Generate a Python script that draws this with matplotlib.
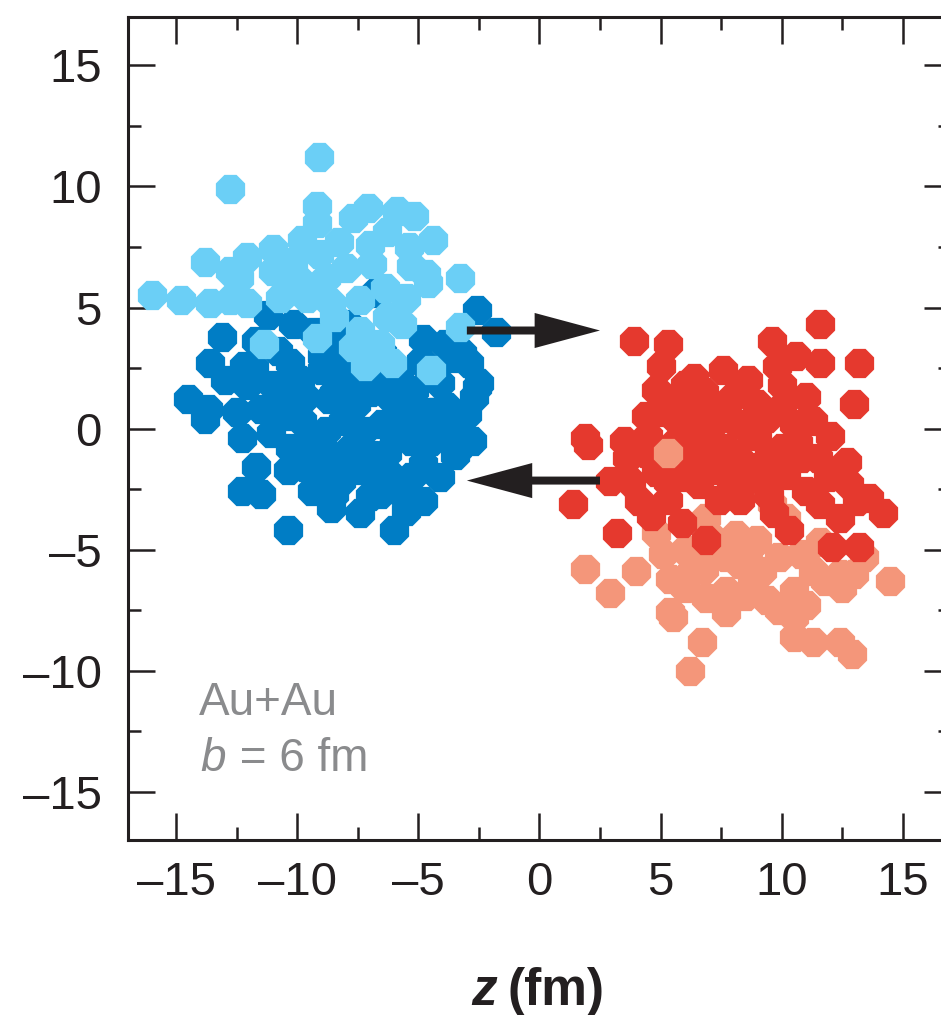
import matplotlib
matplotlib.use("Agg")
import matplotlib.pyplot as plt
from matplotlib.ticker import MultipleLocator

# nucleon positions (z, y) in fm
blue_dark = [
    (-11.2, 4.7), (-10.2, 4.3), (-13.1, 3.8), (-6.8, 5.6), (-2.6, 4.9), (-1.8, 4.0),
    (-4.8, 3.7), (-9.3, 4.0), (-7.9, 4.3), (-8.4, 3.6), (-13.6, 2.7), (-12.2, 2.6),
    (-13.0, 2.0), (-12.1, 1.8), (-14.5, 1.2), (-13.7, 0.8), (-12.5, 0.7), (-13.8, 0.4),
    (-12.3, -0.4), (-11.1, -0.2), (-10.7, 1.2), (-9.7, 1.3), (-9.8, 0.3), (-11.7, -1.6),
    (-12.3, -2.6), (-11.5, -2.7), (-9.7, -1.6), (-9.4, -2.6), (-10.4, -4.2), (-10.3, 2.7),
    (-10.8, 3.2), (-9.0, 2.4), (-9.0, -0.5), (-8.8, -1.3), (-3.2, 3.1), (-2.9, 2.7),
    (-2.5, 1.9), (-2.6, 1.7), (-2.7, 1.3), (-3.6, 2.9), (-7.1, 2.6), (-4.1, 1.9),
    (-5.2, 1.6), (-6.1, 1.2), (-4.6, 0.7), (-8.5, 1.45), (-7.6, 1.0), (-6.5, 0.2),
    (-3.5, 0.0), (-2.8, -0.5), (-3.4, -0.9), (-3.5, -1.1), (-4.8, -1.45), (-6.3, -1.0),
    (-7.8, -0.8), (-8.8, -0.1), (-9.0, -1.7), (-8.2, -2.15), (-6.8, -2.0), (-5.3, -2.0),
    (-4.8, -3.0), (-7.4, -3.5), (-6.0, -4.2), (-8.5, -2.7), (-6.6, -2.7), (-9.9, 2.0),
    (-8.7, 1.2), (-9.5, -0.5), (-8.1, 0.3), (-7.3, -0.1), (-9.9, -0.9), (-8.2, -1.3),
    (-7.5, -1.7), (-10.4, -1.7), (-5.7, 0.7), (-5.3, -0.5), (-4.5, -0.5), (-6.6, 2.0),
    (-7.9, 2.0), (-9.0, 3.0), (-7.9, 3.2), (-5.8, 2.2), (-4.3, 0.7), (-3.8, 0.9),
    (-6.3, -1.8), (-5.8, -2.6), (-7.0, -2.8), (-10.5, 0.5), (-11.5, 0.8), (-11.8, 2.5),
    (-11.0, 1.8), (-6.0, -0.3), (-4.0, -0.2), (-4.1, -2.0), (-6.9, -1.1), (-5.2, 0.3),
    (-4.9, 2.8), (-3.9, 3.5), (-6.5, 3.1), (-8.3, 2.6), (-10.3, -0.8), (-8.6, -3.3),
    (-5.5, -3.4), (-3.0, 0.6), (-7.0, 1.5), (-11.7, 3.6),
]
blue_light = [
    (-9.1, 11.2), (-12.8, 9.9), (-9.2, 9.2), (-9.2, 8.5), (-7.1, 9.1), (-7.7, 8.7),
    (-5.9, 9.0), (-5.2, 8.8), (-6.3, 8.1), (-5.4, 7.5), (-4.4, 7.8), (-9.8, 7.8),
    (-11.0, 7.4), (-12.1, 7.1), (-13.8, 6.9), (-12.8, 6.5), (-12.4, 6.2), (-11.0, 6.5),
    (-10.2, 6.9), (-9.1, 7.2), (-8.0, 6.65), (-6.9, 6.8), (-5.3, 6.7), (-4.7, 6.4),
    (-3.3, 6.2), (-8.8, 6.2), (-10.7, 5.4), (-9.6, 5.4), (-8.6, 5.2), (-7.4, 5.3),
    (-5.5, 5.4), (-6.3, 4.6), (-5.7, 4.3), (-7.4, 4.05), (-6.6, 3.5), (-6.1, 2.7),
    (-4.5, 2.4), (-3.3, 4.2), (-11.4, 3.5), (-9.2, 3.75), (-7.7, 3.35), (-16.0, 5.5),
    (-14.8, 5.3), (-13.6, 5.2), (-12.8, 5.3), (-12.1, 5.2), (-10.5, 5.6), (-4.6, 6.0),
    (-7.2, 2.6), (-8.3, 7.7), (-7.0, 7.6), (-8.5, 4.6), (-6.4, 5.8), (-10.0, 6.2),
]
red_dark = [
    (3.9, 3.6), (5.3, 3.5), (5.0, 2.6), (4.8, 1.6), (6.4, 2.1), (7.6, 2.4), (5.8, 1.2),
    (4.4, 0.5), (2.0, -0.7), (1.9, -0.4), (3.6, -1.2), (4.4, -1.0), (6.1, 0.0),
    (6.2, -1.0), (7.3, 0.3), (7.9, 1.2), (2.9, -2.15), (4.1, -3.0), (5.3, -2.2),
    (6.6, -2.3), (1.4, -3.1), (7.9, -2.3), (11.6, 4.3), (9.6, 3.6), (10.6, 3.0),
    (11.6, 2.7), (13.2, 2.7), (13.0, 1.0), (8.6, 2.0), (10.0, 1.8), (9.4, 0.45),
    (11.3, 0.33), (12.0, -0.3), (10.7, -0.6), (12.7, -1.4), (11.9, -2.0), (10.2, -1.9),
    (8.7, -1.6), (7.4, -0.9), (13.6, -2.85), (11.6, -3.1), (7.0, 0.8), (7.7, -0.8),
    (8.8, -0.25), (10.0, -0.8), (6.5, -1.2), (8.3, -2.4), (13.1, -3.0), (14.2, -3.5),
    (12.4, -3.7), (3.2, -4.3), (5.9, -3.9), (6.9, -4.6), (10.3, -4.2), (12.1, -4.9),
    (13.2, -4.9), (8.3, -2.95), (5.3, -2.95), (7.4, -2.95), (6.0, 1.8), (6.8, 0.5),
    (8.2, 0.2), (9.0, 1.0), (5.6, -0.6), (7.0, -0.3), (9.5, -1.0), (6.0, -2.0),
    (4.8, -1.8), (9.5, -2.8), (10.8, -1.2), (8.2, -1.2), (4.5, -0.3), (6.8, 1.5),
    (9.0, -0.3), (10.5, 0.2), (5.5, 0.5), (8.0, -1.8), (9.8, 2.6), (11.0, 1.3),
    (10.0, 0.9), (11.5, -1.2), (9.2, -2.0), (7.2, -1.7), (3.8, -2.2), (5.0, 0.7),
    (6.3, 1.0), (8.3, 1.6), (3.5, -0.5), (5.0, -1.3), (9.7, -3.5), (11.0, -2.6),
    (12.8, -2.3), (4.6, -3.6),
]
red_light = [
    (1.9, -5.8), (2.9, -6.8), (4.0, -5.9), (4.8, -4.3), (5.1, -5.2), (5.4, -6.2),
    (6.9, -3.7), (8.1, -4.4), (6.3, -5.9), (6.9, -7.0), (5.5, -7.8), (7.7, -7.6),
    (6.7, -8.8), (6.2, -10.0), (8.8, -6.2), (9.9, -5.3), (10.5, -6.7), (9.9, -7.5),
    (10.5, -8.6), (11.3, -8.8), (12.4, -8.8), (12.9, -9.3), (14.5, -6.3), (12.5, -6.6),
    (13.4, -5.3), (11.6, -4.7), (10.2, -3.7), (9.6, -3.1), (11.3, -5.9), (9.2, -5.9),
    (8.6, -5.0), (7.7, -6.7), (9.4, -7.1), (10.5, -7.8), (7.7, -5.3), (8.3, -5.6),
    (12.4, -6.0), (5.4, -7.6), (7.0, -4.4), (6.0, -5.0), (6.8, -5.8), (7.5, -4.8),
    (9.0, -4.6), (10.8, -5.2), (11.8, -6.3), (13.0, -6.0), (8.5, -6.9), (6.0, -6.6),
    (11.0, -7.3),
]
red_light_top = [(5.3, -1.0)]

tick_vals = [-15, -10, -5, 0, 5, 10, 15]
tick_labels = ["\u201315", "\u201310", "\u20135", "0", "5", "10", "15"]

C_DARK_BLUE = "#007dc5"
C_LIGHT_BLUE = "#6bcff6"
C_RED = "#e5392e"
C_SALMON = "#f4967a"
C_ARROW = "#231f20"
C_GRAY = "#8a8b8d"

plt.rcParams["font.family"] = ["Liberation Sans", "DejaVu Sans"]

fig = plt.figure(figsize=(9.41, 10.15), dpi=100)
ax = fig.add_axes([0.1360, 0.1724, 0.8746, 0.8108])

ms = 520
for pts, col in [(blue_dark, C_DARK_BLUE), (blue_light, C_LIGHT_BLUE),
                 (red_light, C_SALMON), (red_dark, C_RED), (red_light_top, C_SALMON)]:
    xs, ys = zip(*pts)
    ax.scatter(xs, ys, s=ms, c=col, marker=(8, 0, 22.5), linewidths=0, zorder=2)

# motion arrows
ax.arrow(-3.0, 4.05, 5.5, 0, width=0.33, head_width=1.45, head_length=2.7,
         length_includes_head=True, color=C_ARROW, lw=0, zorder=3)
ax.arrow(2.5, -2.15, -5.5, 0, width=0.33, head_width=1.45, head_length=2.7,
         length_includes_head=True, color=C_ARROW, lw=0, zorder=3)

ax.text(-14.05, -11.85, "Au+Au", fontsize=33, color=C_GRAY, va="baseline")
ax.text(-14.0, -14.15, "b", fontsize=33, color=C_GRAY, style="italic", va="baseline")
ax.text(-12.9, -14.15, " = 6 fm", fontsize=33, color=C_GRAY, va="baseline")

ax.set_xlim(-17, 17)
ax.set_ylim(-17, 17)
ax.set_xticks(tick_vals)
ax.set_xticklabels(tick_labels)
ax.set_yticks(tick_vals)
ax.set_yticklabels(tick_labels)
ax.xaxis.set_minor_locator(MultipleLocator(2.5))
ax.yaxis.set_minor_locator(MultipleLocator(2.5))
ax.tick_params(which="both", direction="in", top=True, right=True, colors="#231f20",
               width=1.8)
ax.tick_params(which="major", length=19.5, labelsize=34)
ax.tick_params(which="minor", length=9.5)
ax.tick_params(axis="x", which="major", pad=15)
ax.tick_params(axis="y", which="major", pad=19)
for sp in ax.spines.values():
    sp.set_linewidth(2.2)
    sp.set_color("#231f20")

fig.text(497 / 941, 10 / 1015, "z", fontsize=37, fontweight="bold", style="italic",
         ha="right", va="baseline", color="#231f20")
fig.text(507 / 941, 10 / 1015, "(fm)", fontsize=37, fontweight="bold",
         ha="left", va="baseline", color="#231f20")

fig.savefig("out.png", dpi=100)
